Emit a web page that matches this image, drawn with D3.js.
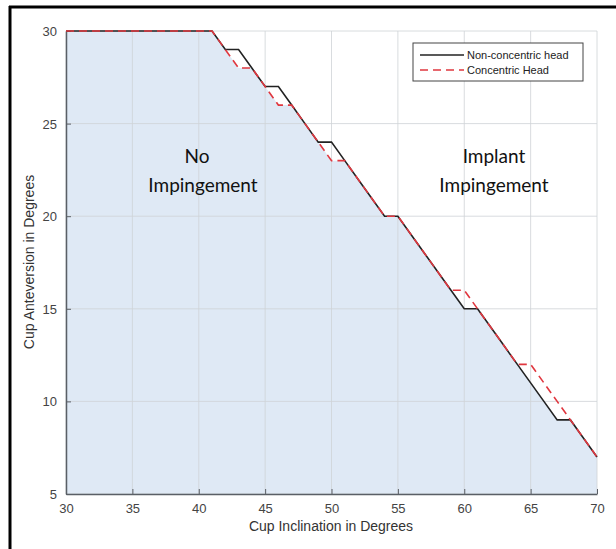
<!DOCTYPE html>
<html><head><meta charset="utf-8">
<script src="https://cdn.jsdelivr.net/npm/d3@7"></script>
<style>body{margin:0;background:#fff}svg{display:block}</style>
</head><body>
<script>
const inclination = [30,31,32,33,34,35,36,37,38,39,40,41,42,43,44,45,46,47,48,49,50,51,52,53,54,55,56,57,58,59,60,61,62,63,64,65,66,67,68,69,70];
const nonConcentric = [30,30,30,30,30,30,30,30,30,30,30,30,29,29,28,27,27,26,25,24,24,23,22,21,20,20,19,18,17,16,15,15,14,13,12,11,10,9,9,8,7];
const concentric =    [30,30,30,30,30,30,30,30,30,30,30,30,29,28,28,27,26,26,25,24,23,23,22,21,20,20,19,18,17,16,16,15,14,13,12,12,11,10,9,8,7];
const xTicks = [30,35,40,45,50,55,60,65,70];
const yTicks = [5,10,15,20,25,30];
const seriesNames = ["Non-concentric head","Concentric Head"];

const W=616,H=549;
const svg=d3.select("body").append("svg").attr("width",W).attr("height",H);
const x=d3.scaleLinear().domain([30,70]).range([66,597]);
const y=d3.scaleLinear().domain([5,30]).range([494,31]);

// outer frame (left and top)
svg.append("line").attr("x1",10).attr("x2",10).attr("y1",6).attr("y2",H).attr("stroke","#000").attr("stroke-width",3);
svg.append("line").attr("x1",9).attr("x2",W).attr("y1",7).attr("y2",7).attr("stroke","#000").attr("stroke-width",3);

// fill under minimum envelope
const minData=inclination.map((v,i)=>[v,Math.min(nonConcentric[i],concentric[i])]);
const area=d3.area().x(d=>x(d[0])).y0(y(5)).y1(d=>y(d[1]));
svg.append("path").datum(minData).attr("d",area).attr("fill","#dfe9f5");

// grid
const g=svg.append("g");
xTicks.forEach(t=>g.append("line").attr("x1",x(t)).attr("x2",x(t)).attr("y1",y(30)).attr("y2",y(5)).attr("stroke","#d0d4d8").attr("stroke-width",1).attr("opacity",0.8));
yTicks.forEach(t=>g.append("line").attr("x1",x(30)).attr("x2",x(70)).attr("y1",y(t)).attr("y2",y(t)).attr("stroke","#d0d4d8").attr("stroke-width",1).attr("opacity",0.8));

// axes
const xAxis=d3.axisBottom(x).tickValues(xTicks).tickSizeInner(-5).tickSizeOuter(0).tickPadding(10);
const yAxis=d3.axisLeft(y).tickValues(yTicks).tickSizeInner(-5).tickSizeOuter(0).tickPadding(9);
const gx=svg.append("g").attr("transform",`translate(0,${y(5)})`).call(xAxis);
const gy=svg.append("g").attr("transform",`translate(${x(30)},0)`).call(yAxis);
[gx,gy].forEach(a=>{
  a.select(".domain").attr("stroke","#5a5f66").attr("stroke-width",1.5);
  a.selectAll(".tick line").attr("stroke","#5a5f66");
  a.selectAll("text").attr("font-family","Liberation Sans, Arial, sans-serif").attr("font-size",13).attr("fill","#444");
});
gy.selectAll(".tick text").attr("dy","0.35em");

// lines
const line=d3.line().x((d,i)=>x(inclination[i])).y(d=>y(d));
svg.append("path").datum(nonConcentric).attr("d",line).attr("fill","none").attr("stroke","#222").attr("stroke-width",1.6);
svg.append("path").datum(concentric).attr("d",line).attr("fill","none").attr("stroke","#e0373f").attr("stroke-width",1.6).attr("stroke-dasharray","8,5");

// annotation texts
const ann=svg.append("g").attr("font-family","Lato, 'Open Sans', sans-serif").attr("font-size",19).attr("fill","#111").attr("text-anchor","middle");
ann.append("text").attr("x",197).attr("y",163).text("No");
ann.append("text").attr("x",203).attr("y",192).text("Impingement");
ann.append("text").attr("x",494).attr("y",163).text("Implant");
ann.append("text").attr("x",494).attr("y",192).text("Impingement");

// axis labels
svg.append("text").attr("x",331).attr("y",531).attr("text-anchor","middle").attr("font-family","Liberation Sans, Arial, sans-serif").attr("font-size",14).attr("fill","#333").text("Cup Inclination in Degrees");
svg.append("text").attr("transform","translate(34,262) rotate(-90)").attr("text-anchor","middle").attr("font-family","Liberation Sans, Arial, sans-serif").attr("font-size",14).attr("fill","#333").text("Cup Anteversion in Degrees");

// legend
const lg=svg.append("g").attr("transform","translate(413,43)");
lg.append("rect").attr("width",170).attr("height",38).attr("fill","#fff").attr("stroke","#444").attr("stroke-width",1);
const styles=[{c:"#222",d:null},{c:"#e0373f",d:"8,5"}];
seriesNames.forEach((n,i)=>{
  const yy=12+i*15;
  const l=lg.append("line").attr("x1",7).attr("x2",51).attr("y1",yy).attr("y2",yy).attr("stroke",styles[i].c).attr("stroke-width",1.6);
  if(styles[i].d) l.attr("stroke-dasharray",styles[i].d);
  lg.append("text").attr("x",54).attr("y",yy+4).attr("font-family","Liberation Sans, Arial, sans-serif").attr("font-size",11).attr("fill","#222").text(n);
});
</script>
</body></html>
